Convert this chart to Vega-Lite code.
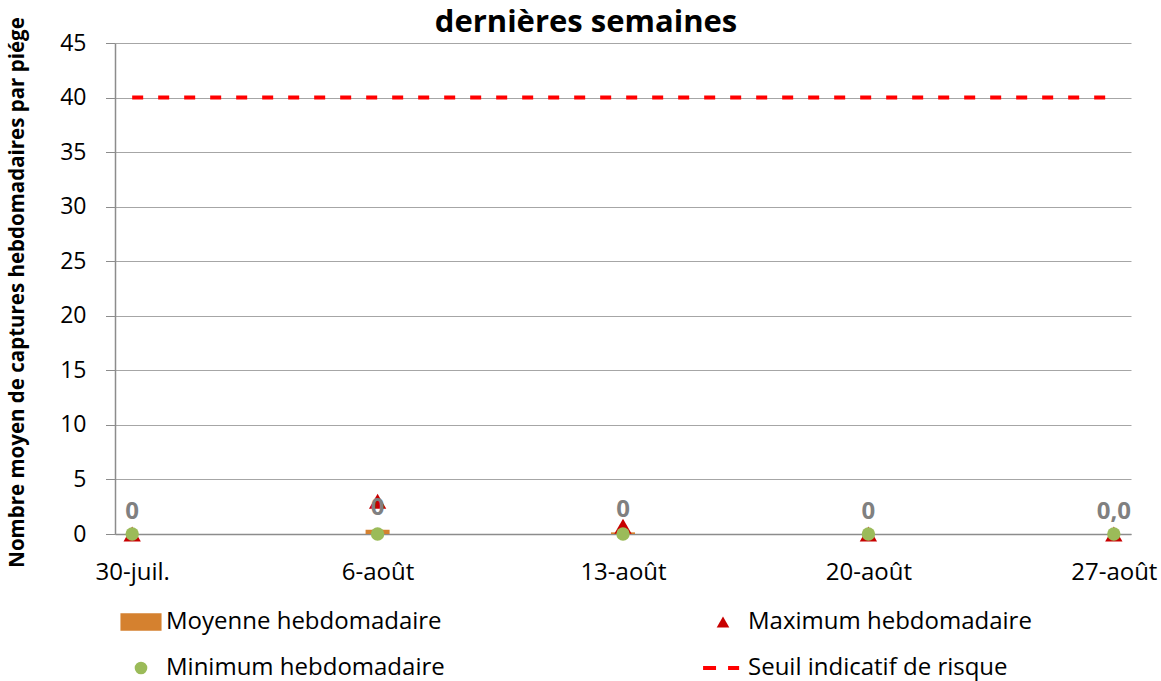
{
  "$schema": "https://vega.github.io/schema/vega-lite/v6.json",
  "width": 1016,
  "height": 491,
  "autosize": {"type": "none"},
  "padding": {"left": 115, "top": 43, "right": 30, "bottom": 147},
  "background": "white",
  "title": {
    "text": "dernières semaines",
    "font": "Open Sans",
    "fontSize": 31,
    "fontWeight": "bold",
    "color": "#000000",
    "anchor": "middle",
    "dx": -37,
    "offset": -46,
    "baseline": "alphabetic"
  },
  "data": {
    "values": [
      {"date": "30-juil.", "moyenne": 0, "max": 0, "min": 0, "seuil": 40, "label": "0"},
      {"date": "6-août", "moyenne": 0.4, "max": 3, "min": 0, "seuil": 40, "label": "0"},
      {"date": "13-août", "moyenne": 0.15, "max": 0.7, "min": 0, "seuil": 40, "label": "0"},
      {"date": "20-août", "moyenne": 0, "max": 0, "min": 0, "seuil": 40, "label": "0"},
      {"date": "27-août", "moyenne": 0, "max": 0, "min": 0, "seuil": 40, "label": "0,0"}
    ]
  },
  "encoding": {
    "x": {
      "field": "date",
      "type": "ordinal",
      "sort": null,
      "scale": {"type": "point", "padding": 0.07},
      "axis": {
        "title": null,
        "labelAngle": 0,
        "ticks": false,
        "tickSize": 0,
        "grid": false,
        "labelFont": "Open Sans",
        "labelFontSize": 24,
        "labelColor": "#000000",
        "labelPadding": 26,
        "domainColor": "#8C8C8C",
        "domainWidth": 1.5
      }
    }
  },
  "layer": [
    {
      "mark": {"type": "bar", "width": 24, "color": "#D5812F"},
      "encoding": {
        "y": {
          "field": "moyenne",
          "type": "quantitative",
          "scale": {"domain": [0, 45], "nice": false},
          "axis": {
            "title": "Nombre moyen de captures hebdomadaires par piége",
            "values": [0, 5, 10, 15, 20, 25, 30, 35, 40, 45],
            "grid": true,
            "gridColor": "#A6A6A6",
            "gridWidth": 1,
            "tickSize": 9.5,
            "tickColor": "#8C8C8C",
            "domainColor": "#8C8C8C",
            "domainWidth": 1.5,
            "labelFont": "Open Sans",
            "labelFontSize": 23,
            "labelColor": "#000000",
            "labelPadding": 19.5,
            "titleFont": "Open Sans",
            "titleFontSize": 20.5,
            "titleFontWeight": "bold",
            "titleColor": "#000000",
            "titleX": -98,
            "titleY": 249,
            "titleBaseline": "middle"
          }
        }
      }
    },
    {
      "mark": {"type": "line", "color": "#FF0000", "strokeWidth": 4, "strokeDash": [11, 15]},
      "encoding": {
        "y": {"field": "seuil", "type": "quantitative"}
      }
    },
    {
      "transform": [{"fold": ["max", "min"], "as": ["serie", "valeur"]}],
      "mark": {"type": "point", "filled": true, "opacity": 1, "strokeWidth": 0},
      "encoding": {
        "y": {"field": "valeur", "type": "quantitative"},
        "size": {
          "field": "serie",
          "type": "nominal",
          "scale": {"domain": ["max", "min"], "range": [300, 180]},
          "legend": null
        },
        "color": {
          "field": "serie",
          "type": "nominal",
          "scale": {
            "domain": ["moyenne", "max", "min", "seuil"],
            "range": ["#D5812F", "#C80000", "#9BBB59", "#FF0000"]
          },
          "legend": {
            "title": null,
            "orient": "none",
            "legendX": 14,
            "legendY": 567,
            "direction": "horizontal",
            "columns": 2,
            "padding": 0,
            "symbolSize": 160,
            "symbolStrokeWidth": 0,
            "symbolOpacity": 1,
            "labelFont": "Open Sans",
            "labelFontSize": 24,
            "labelColor": "#000000",
            "labelLimit": 500,
            "labelOffset": 13,
            "columnPadding": 258,
            "rowPadding": 22,
            "labelExpr": "datum.label == 'moyenne' ? 'Moyenne hebdomadaire' : datum.label == 'max' ? 'Maximum hebdomadaire' : datum.label == 'min' ? 'Minimum hebdomadaire' : 'Seuil indicatif de risque'"
          }
        },
        "shape": {
          "field": "serie",
          "type": "nominal",
          "scale": {
            "domain": ["moyenne", "max", "min", "seuil"],
            "range": [
              "M-3.25,-1.4H3.25V1.4H-3.25Z",
              "triangle-up",
              "circle",
              "M-3.15,-0.32H-1.1V0.32H-3.15ZM0.8,-0.32H2.55V0.32H0.8Z"
            ]
          },
          "legend": {
            "title": null,
            "orient": "none",
            "legendX": 14,
            "legendY": 567,
            "direction": "horizontal",
            "columns": 2,
            "padding": 0,
            "symbolSize": 160,
            "symbolStrokeWidth": 0,
            "symbolOpacity": 1,
            "labelFont": "Open Sans",
            "labelFontSize": 24,
            "labelColor": "#000000",
            "labelLimit": 500,
            "labelOffset": 13,
            "columnPadding": 258,
            "rowPadding": 22,
            "labelExpr": "datum.label == 'moyenne' ? 'Moyenne hebdomadaire' : datum.label == 'max' ? 'Maximum hebdomadaire' : datum.label == 'min' ? 'Minimum hebdomadaire' : 'Seuil indicatif de risque'"
          }
        }
      }
    },
    {
      "mark": {
        "type": "text",
        "font": "Open Sans",
        "fontSize": 24,
        "fontWeight": "bold",
        "color": "#808080",
        "dy": -22,
        "baseline": "middle"
      },
      "encoding": {
        "y": {"field": "moyenne", "type": "quantitative"},
        "text": {"field": "label"}
      }
    }
  ],
  "config": {
    "view": {"stroke": null},
    "font": "Open Sans"
  }
}
